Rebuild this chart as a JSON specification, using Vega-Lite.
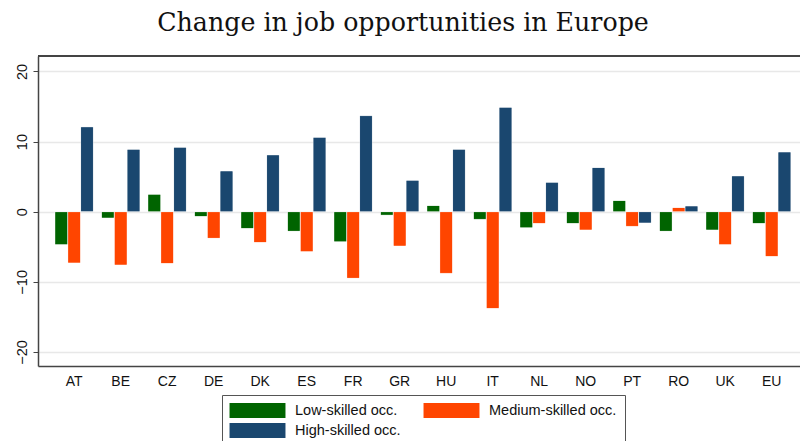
{
  "$schema": "https://vega.github.io/schema/vega-lite/v6.json",
  "width": 762,
  "height": 310,
  "autosize": {"type": "none"},
  "padding": {"left": 38, "top": 56, "right": 0, "bottom": 75},
  "background": "white",
  "title": {
    "text": "Change in job opportunities in Europe",
    "font": "DejaVu Serif",
    "fontSize": 25.3,
    "fontWeight": "normal",
    "color": "#111",
    "anchor": "middle",
    "dx": -16,
    "offset": 19
  },
  "config": {
    "view": {"stroke": null},
    "axis": {"labelFont": "Liberation Sans", "labelColor": "#111"}
  },
  "data": {
    "values": [
      {"country": "AT", "group": "Low-skilled occ.", "value": -4.7},
      {"country": "AT", "group": "Medium-skilled occ.", "value": -7.3},
      {"country": "AT", "group": "High-skilled occ.", "value": 12.1},
      {"country": "BE", "group": "Low-skilled occ.", "value": -0.9},
      {"country": "BE", "group": "Medium-skilled occ.", "value": -7.6},
      {"country": "BE", "group": "High-skilled occ.", "value": 8.9},
      {"country": "CZ", "group": "Low-skilled occ.", "value": 2.5},
      {"country": "CZ", "group": "Medium-skilled occ.", "value": -7.4},
      {"country": "CZ", "group": "High-skilled occ.", "value": 9.2},
      {"country": "DE", "group": "Low-skilled occ.", "value": -0.7},
      {"country": "DE", "group": "Medium-skilled occ.", "value": -3.8},
      {"country": "DE", "group": "High-skilled occ.", "value": 5.8},
      {"country": "DK", "group": "Low-skilled occ.", "value": -2.4},
      {"country": "DK", "group": "Medium-skilled occ.", "value": -4.4},
      {"country": "DK", "group": "High-skilled occ.", "value": 8.1},
      {"country": "ES", "group": "Low-skilled occ.", "value": -2.8},
      {"country": "ES", "group": "Medium-skilled occ.", "value": -5.7},
      {"country": "ES", "group": "High-skilled occ.", "value": 10.6},
      {"country": "FR", "group": "Low-skilled occ.", "value": -4.3},
      {"country": "FR", "group": "Medium-skilled occ.", "value": -9.5},
      {"country": "FR", "group": "High-skilled occ.", "value": 13.7},
      {"country": "GR", "group": "Low-skilled occ.", "value": -0.5},
      {"country": "GR", "group": "Medium-skilled occ.", "value": -4.9},
      {"country": "GR", "group": "High-skilled occ.", "value": 4.5},
      {"country": "HU", "group": "Low-skilled occ.", "value": 0.9},
      {"country": "HU", "group": "Medium-skilled occ.", "value": -8.8},
      {"country": "HU", "group": "High-skilled occ.", "value": 8.9},
      {"country": "IT", "group": "Low-skilled occ.", "value": -1.1},
      {"country": "IT", "group": "Medium-skilled occ.", "value": -13.8},
      {"country": "IT", "group": "High-skilled occ.", "value": 14.9},
      {"country": "NL", "group": "Low-skilled occ.", "value": -2.3},
      {"country": "NL", "group": "Medium-skilled occ.", "value": -1.7},
      {"country": "NL", "group": "High-skilled occ.", "value": 4.2},
      {"country": "NO", "group": "Low-skilled occ.", "value": -1.7},
      {"country": "NO", "group": "Medium-skilled occ.", "value": -2.6},
      {"country": "NO", "group": "High-skilled occ.", "value": 6.3},
      {"country": "PT", "group": "Low-skilled occ.", "value": 1.6},
      {"country": "PT", "group": "Medium-skilled occ.", "value": -2.1},
      {"country": "PT", "group": "High-skilled occ.", "value": -1.6},
      {"country": "RO", "group": "Low-skilled occ.", "value": -2.8},
      {"country": "RO", "group": "Medium-skilled occ.", "value": 0.6},
      {"country": "RO", "group": "High-skilled occ.", "value": 0.8},
      {"country": "UK", "group": "Low-skilled occ.", "value": -2.6},
      {"country": "UK", "group": "Medium-skilled occ.", "value": -4.7},
      {"country": "UK", "group": "High-skilled occ.", "value": 5.1},
      {"country": "EU", "group": "Low-skilled occ.", "value": -1.7},
      {"country": "EU", "group": "Medium-skilled occ.", "value": -6.4},
      {"country": "EU", "group": "High-skilled occ.", "value": 8.5}
    ]
  },
  "layer": [
    {
      "mark": {"type": "rule", "color": "#444", "strokeWidth": 1.5},
      "encoding": {"y": {"datum": 22.2}}
    },
    {
      "mark": {"type": "bar", "cornerRadius": 1, "stroke": "#ffffff", "strokeOpacity": 0.25, "strokeWidth": 1},
      "encoding": {
        "x": {
          "field": "country",
          "type": "nominal",
          "sort": ["AT","BE","CZ","DE","DK","ES","FR","GR","HU","IT","NL","NO","PT","RO","UK","EU"],
          "scale": {"paddingInner": 0.172, "paddingOuter": 0.28, "align": 0.65},
          "axis": {
            "title": null,
            "labelAngle": 0,
            "ticks": false,
            "domain": true,
            "domainColor": "#444",
            "domainWidth": 1.5,
            "labelPadding": 8,
            "labelFontSize": 14,
            "grid": false
          }
        },
        "xOffset": {
          "field": "group",
          "type": "nominal",
          "sort": ["Low-skilled occ.", "Medium-skilled occ.", "High-skilled occ."],
          "scale": {"paddingInner": 0, "paddingOuter": 0}
        },
        "y": {
          "field": "value",
          "type": "quantitative",
          "scale": {"domain": [-22, 22.2], "nice": false, "zero": false},
          "axis": {
            "title": null,
            "values": [-20, -10, 0, 10, 20],
            "labelAngle": 270,
            "labelAlign": "center",
            "labelBaseline": "bottom",
            "labelPadding": 4,
            "labelFontSize": 14.5,
            "tickSize": 5,
            "tickColor": "#444",
            "domain": true,
            "domainColor": "#444",
            "domainWidth": 1.5,
            "grid": true,
            "gridColor": "#e8e8e8",
            "gridWidth": 1.5
          }
        },
        "color": {
          "field": "group",
          "type": "nominal",
          "sort": ["Low-skilled occ.", "Medium-skilled occ.", "High-skilled occ."],
          "scale": {
            "domain": ["Low-skilled occ.", "Medium-skilled occ.", "High-skilled occ."],
            "range": ["#006400", "#ff4500", "#1a476f"]
          },
          "legend": {
            "title": null,
            "orient": "none",
            "legendX": 184,
            "legendY": 339,
            "direction": "horizontal",
            "columns": 2,
            "symbolType": "M-3.73,-1H3.73V1H-3.73Z",
            "symbolSize": 225,
            "symbolOffset": 20,
            "labelOffset": 30,
            "labelFont": "Liberation Sans",
            "labelFontSize": 14.5,
            "labelColor": "#111",
            "symbolStrokeWidth": 0,
            "rowPadding": 4,
            "columnPadding": 22,
            "padding": 8,
            "strokeColor": "#555",
            "fillColor": "white"
          }
        }
      }
    }
  ]
}
